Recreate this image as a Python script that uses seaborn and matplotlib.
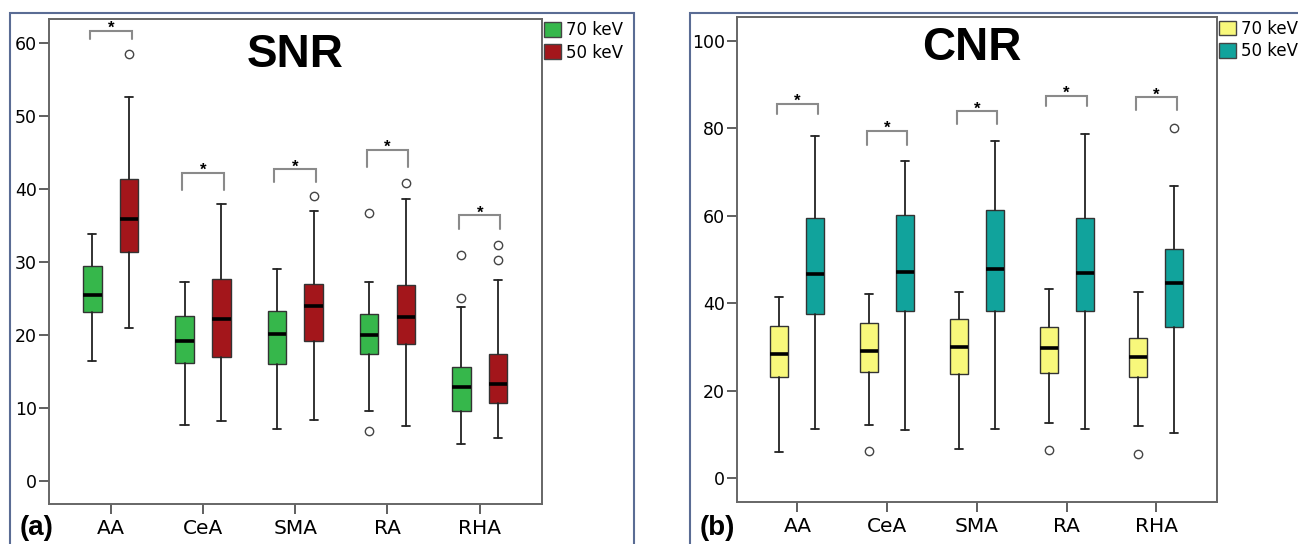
import numpy as np
import matplotlib
matplotlib.use("Agg")
import matplotlib.pyplot as plt
from matplotlib.patches import Patch, Rectangle
import seaborn as sns

# ---------------- data ----------------
regions = ["AA", "CeA", "SMA", "RA", "RHA"]
series_labels = ["70 keV", "50 keV"]

snr70_low = [16.4, 7.7, 7.1, 9.5, 5.0]
snr70_q1 = [23.2, 16.1, 16.0, 17.4, 9.6]
snr70_med = [25.5, 19.2, 20.1, 20.0, 12.9]
snr70_q3 = [29.4, 22.6, 23.3, 22.9, 15.6]
snr70_high = [33.9, 27.3, 29.0, 27.3, 23.9]
snr70_out = [[], [], [], [36.7, 6.8], [31.0, 25.1]]

snr50_low = [21.0, 8.2, 8.3, 7.5, 5.8]
snr50_q1 = [31.4, 17.0, 19.2, 18.8, 10.6]
snr50_med = [35.9, 22.2, 24.0, 22.4, 13.3]
snr50_q3 = [41.4, 27.7, 27.0, 26.9, 17.4]
snr50_high = [52.6, 37.9, 37.0, 38.6, 27.5]
snr50_out = [[58.5], [], [39.0], [40.9], [32.3, 30.3]]

cnr70_low = [6.0, 12.1, 6.7, 12.5, 11.9]
cnr70_q1 = [23.2, 24.2, 23.8, 24.0, 23.1]
cnr70_med = [28.3, 29.0, 30.0, 29.8, 27.6]
cnr70_q3 = [34.7, 35.4, 36.3, 34.5, 32.1]
cnr70_high = [41.5, 42.0, 42.6, 43.3, 42.6]
cnr70_out = [[], [6.2], [], [6.4], [5.6]]

cnr50_low = [11.1, 11.0, 11.3, 11.1, 10.2]
cnr50_q1 = [37.5, 38.3, 38.3, 38.3, 34.6]
cnr50_med = [46.6, 47.2, 47.9, 46.8, 44.7]
cnr50_q3 = [59.4, 60.1, 61.2, 59.4, 52.5]
cnr50_high = [78.3, 72.6, 77.2, 78.8, 66.8]
cnr50_out = [[], [], [], [], [80.1]]

# significance brackets: top line and leg end
snr_bracket_top = [61.7, 42.2, 42.7, 45.4, 36.4]
snr_bracket_leg = [60.6, 39.9, 41.0, 43.1, 34.5]
cnr_bracket_top = [85.6, 79.4, 83.9, 87.5, 87.1]
cnr_bracket_leg = [83.3, 76.2, 81.0, 85.0, 84.3]

snr_yticks = [0, 10, 20, 30, 40, 50, 60]
cnr_yticks = [0, 20, 40, 60, 80, 100]

# ---------------- style ----------------
sns.set_theme(style="white")
plt.rcParams["font.family"] = ["DejaVu Sans"]
plt.rcParams["text.color"] = "black"
plt.rcParams["xtick.color"] = "black"
plt.rcParams["ytick.color"] = "black"

W, H = 1298, 544
fig = plt.figure(figsize=(W / 100, H / 100), dpi=100)


def make_stats(low, q1, med, q3, high, out):
    return [dict(whislo=a, q1=b, med=c, q3=d, whishi=e, fliers=f, label="")
            for a, b, c, d, e, f in zip(low, q1, med, q3, high, out)]


def draw_panel(rect, stats70, stats50, colors, ylim, yticks, btop, bleg,
               title, title_xy, tag, tag_x, frame_x):
    ax = fig.add_axes(rect)
    pos = np.arange(len(regions))
    common = dict(widths=0.2, capwidths=0.09, patch_artist=True,
                  medianprops=dict(color="black", lw=2.6),
                  whiskerprops=dict(color="#222222", lw=1.3),
                  capprops=dict(color="#222222", lw=1.3),
                  flierprops=dict(marker="o", markerfacecolor="none",
                                  markeredgecolor="#444444", markersize=6,
                                  markeredgewidth=1.0))
    for st, off, col in [(stats70, -0.2, colors[0]), (stats50, 0.2, colors[1])]:
        art = ax.bxp(st, positions=pos + off, **common)
        for b in art["boxes"]:
            b.set_facecolor(col)
            b.set_edgecolor("#333333")
            b.set_linewidth(1.0)
    # brackets
    for i, (t, l) in enumerate(zip(btop, bleg)):
        ax.plot([i - 0.225, i - 0.225, i + 0.225, i + 0.225], [l, t, t, l],
                color="#8a8a8a", lw=1.5, solid_joinstyle="miter")
        ax.annotate("*", xy=(i, t), xytext=(0, -1.5), textcoords="offset points",
                    ha="center", va="baseline", fontsize=12, fontweight="bold",
                    family="Liberation Sans", annotation_clip=False)
    ax.set_xlim(-0.675, 4.675)
    ax.set_ylim(*ylim)
    ax.set_xticks(pos)
    ax.set_xticklabels(regions, fontsize=14.5)
    ax.set_yticks(yticks)
    ax.set_yticklabels([str(v) for v in yticks], fontsize=12.5)
    ax.tick_params(axis="x", length=7, width=1.2, color="#444444", pad=4,
                   bottom=True)
    ax.tick_params(axis="y", length=7, width=1.2, color="#444444", pad=1.5,
                   left=True)
    for s in ax.spines.values():
        s.set_color("#666666")
        s.set_linewidth(1.4)
    ax.text(title_xy[0], title_xy[1], title, transform=ax.transAxes,
            ha="center", va="center", fontsize=33, fontweight="bold",
            family="Liberation Sans")
    handles = [Patch(facecolor=colors[0], edgecolor="#444444", lw=1.0),
               Patch(facecolor=colors[1], edgecolor="#444444", lw=1.0)]
    ax.legend(handles, series_labels, loc="upper left",
              bbox_to_anchor=(1.004, 0.995), frameon=False, fontsize=12,
              handlelength=1.0, handleheight=1.0, handletextpad=0.3,
              labelspacing=0.25, borderpad=0, borderaxespad=0)
    fig.text(tag_x, 1 - 528 / H, tag, ha="left", va="center", fontsize=20,
             fontweight="bold", family="Liberation Sans")
    fig.add_artist(Rectangle((frame_x[0] / W, -0.1),
                             (frame_x[1] - frame_x[0]) / W, 1.1 - 13 / H,
                             transform=fig.transFigure, fill=False,
                             edgecolor="#5a6c94", lw=1.5))
    return ax


snr70 = make_stats(snr70_low, snr70_q1, snr70_med, snr70_q3, snr70_high, snr70_out)
snr50 = make_stats(snr50_low, snr50_q1, snr50_med, snr50_q3, snr50_high, snr50_out)
cnr70 = make_stats(cnr70_low, cnr70_q1, cnr70_med, cnr70_q3, cnr70_high, cnr70_out)
cnr50 = make_stats(cnr50_low, cnr50_q1, cnr50_med, cnr50_q3, cnr50_high, cnr50_out)

draw_panel([48.5 / W, 1 - 504 / H, (542 - 48.5) / W, (504 - 19) / H],
           snr70, snr50, ["#36b74b", "#a3161b"], (-3.2, 63.35), snr_yticks,
           snr_bracket_top, snr_bracket_leg, "SNR", (0.5, 0.926), "(a)",
           20 / W, (10, 634))
draw_panel([736.8 / W, 1 - 501.6 / H, (1217 - 736.8) / W, (501.6 - 17.3) / H],
           cnr70, cnr50, ["#f8f87b", "#11a39c"], (-5.4, 105.4), cnr_yticks,
           cnr_bracket_top, cnr_bracket_leg, "CNR", (0.49, 0.936), "(b)",
           700 / W, (690, 1400))

fig.savefig("out.png", dpi=100)
